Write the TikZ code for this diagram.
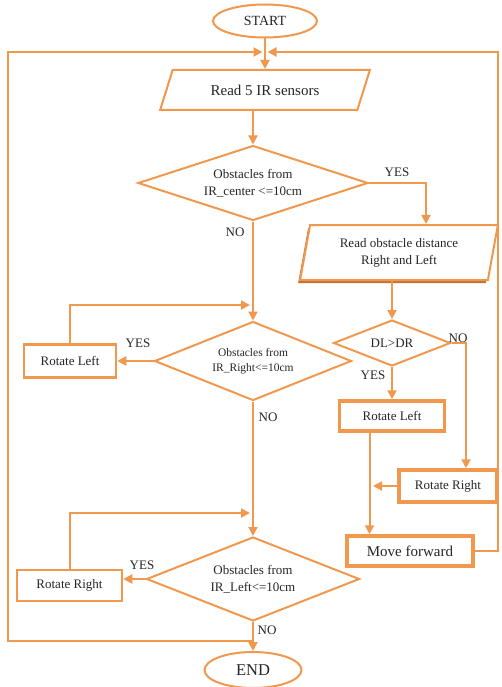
\documentclass[tikz,border=0pt]{standalone}
\usepackage{fontspec}
\setmainfont{Liberation Serif}
\usetikzlibrary{shapes.geometric, arrows.meta, shadows}

\definecolor{flow}{RGB}{240,152,78}
\definecolor{flowdark}{RGB}{196,112,48}

\begin{document}
\begin{tikzpicture}[x=1pt, y=-1pt,
  flowline/.style={draw=flow, line width=2pt},
  arr/.style={flowline, -{Triangle[length=9pt,width=9pt]}},
  every node/.style={text=black!85, font=\fontsize{13}{17}\selectfont},
  term/.style={ellipse, flowline, fill=white, inner sep=0pt},
  io/.style={trapezium, trapezium stretches=true, flowline, fill=white, inner sep=0pt, align=center},
  decision/.style={diamond, flowline, fill=white, inner sep=0pt, align=center},
  act/.style={rectangle, draw=flow, line width=2.5pt, fill=white, inner sep=0pt},
  actbold/.style={act, line width=3.5pt}]

\useasboundingbox (0,0) rectangle (501,687);

%Start and end
\node[term, minimum width=104pt, minimum height=33pt, font=\fontsize{14}{17}\selectfont] (start) at (265,21) {START};
\node[term, minimum width=97pt, minimum height=36pt, font=\fontsize{16.5}{18}\selectfont] (en) at (253,670) {END};

%Sensors
\node[io, trapezium left angle=55, trapezium right angle=125, minimum width=210pt, minimum height=40pt,
  font=\fontsize{15}{17}\selectfont] (read) at (265,90) {Read 5 IR sensors};

%Left column
\node[decision, aspect=3.07, minimum width=230pt, minimum height=75pt] (obs1) at (253,183) {Obstacles from\\IR\_center <=10cm};
\node[decision, aspect=2.49, minimum width=197pt, minimum height=79pt, font=\fontsize{11.5}{15}\selectfont] (obs2) at (253,361) {Obstacles from\\IR\_Right<=10cm};
\node[decision, aspect=2.54, minimum width=213pt, minimum height=84pt] (obs3) at (253,579) {Obstacles from\\IR\_Left<=10cm};
\node[act, minimum width=92pt, minimum height=33pt] (rl1) at (70,361) {Rotate Left};
\node[act, minimum width=105pt, minimum height=31pt] (rr1) at (69.5,585.5) {Rotate Right};

%Right column
\node[io, trapezium left angle=77, trapezium right angle=103, minimum width=198pt, minimum height=55pt,
  drop shadow={shadow xshift=-2pt, shadow yshift=-3pt, fill=flowdark, opacity=1}] (dist) at (399,252.5)
  {Read obstacle distance\\Right and Left};
\node[decision, aspect=2.54, minimum width=117pt, minimum height=46pt] (dl) at (392,343) {DL>DR};
\node[actbold, minimum width=105pt, minimum height=30pt] (rl2) at (392,416) {Rotate Left};
\node[actbold, minimum width=98pt, minimum height=32pt] (rr2) at (448,486) {Rotate Right};
\node[actbold, minimum width=126pt, minimum height=30pt, font=\fontsize{15}{17}\selectfont] (mf) at (410,551) {Move forward};

% Labels
\node (yes1) at (397,172) {YES};
\node (no1) at (235,232) {NO};
\node (yes2) at (138,343) {YES};
\node (no2) at (268,417) {NO};
\node (yes3) at (142,565) {YES};
\node (no3) at (267,630) {NO};
\node (yes4) at (373,375) {YES};
\node (no4) at (458,338) {NO};

\coordinate (join1) at (253,305);
\coordinate (join2) at (253,513);
\coordinate (loopL) at (8,641);
\coordinate (loopR) at (498,52);

// Connectors
\foreach \from/\to in {start/read, obs1/obs2, obs2/obs3, obs3/en, obs2/rl1, dl/rl2}
\draw[arr] (\from) -- (\to);

\draw[arr] (read.south -| obs1.north) -- (obs1.north);
\draw[arr] (obs1.east) -| ([xshift=27pt]dist.north);
\draw[arr] (dist.south -| dl.north) -- (dl.north);
\draw[arr] (dl.east) -| ([xshift=18pt]rr2.north);
\draw[arr] ([xshift=-22.5pt]rl2.south) -- ([xshift=-22.5pt]rl2.south |- mf.north);
\draw[arr] (rr2.west) -- ([xshift=-19pt]rl2.south |- rr2.west);
\draw[arr] (obs3.west) -- (obs3.west -| rr1.east);
\draw[arr] (rl1.north) |- ([xshift=-3pt]join1);
\draw[arr] (rr1.north) |- ([xshift=-3pt]join2);
\draw[arr] (loopL -| obs3) -- (loopL) |- ([xshift=-2.5pt]start.south |- loopR);
\draw[arr] (mf.east) -| (loopR) -- ([xshift=2.5pt]start.south |- loopR);

\end{tikzpicture}
\end{document}
